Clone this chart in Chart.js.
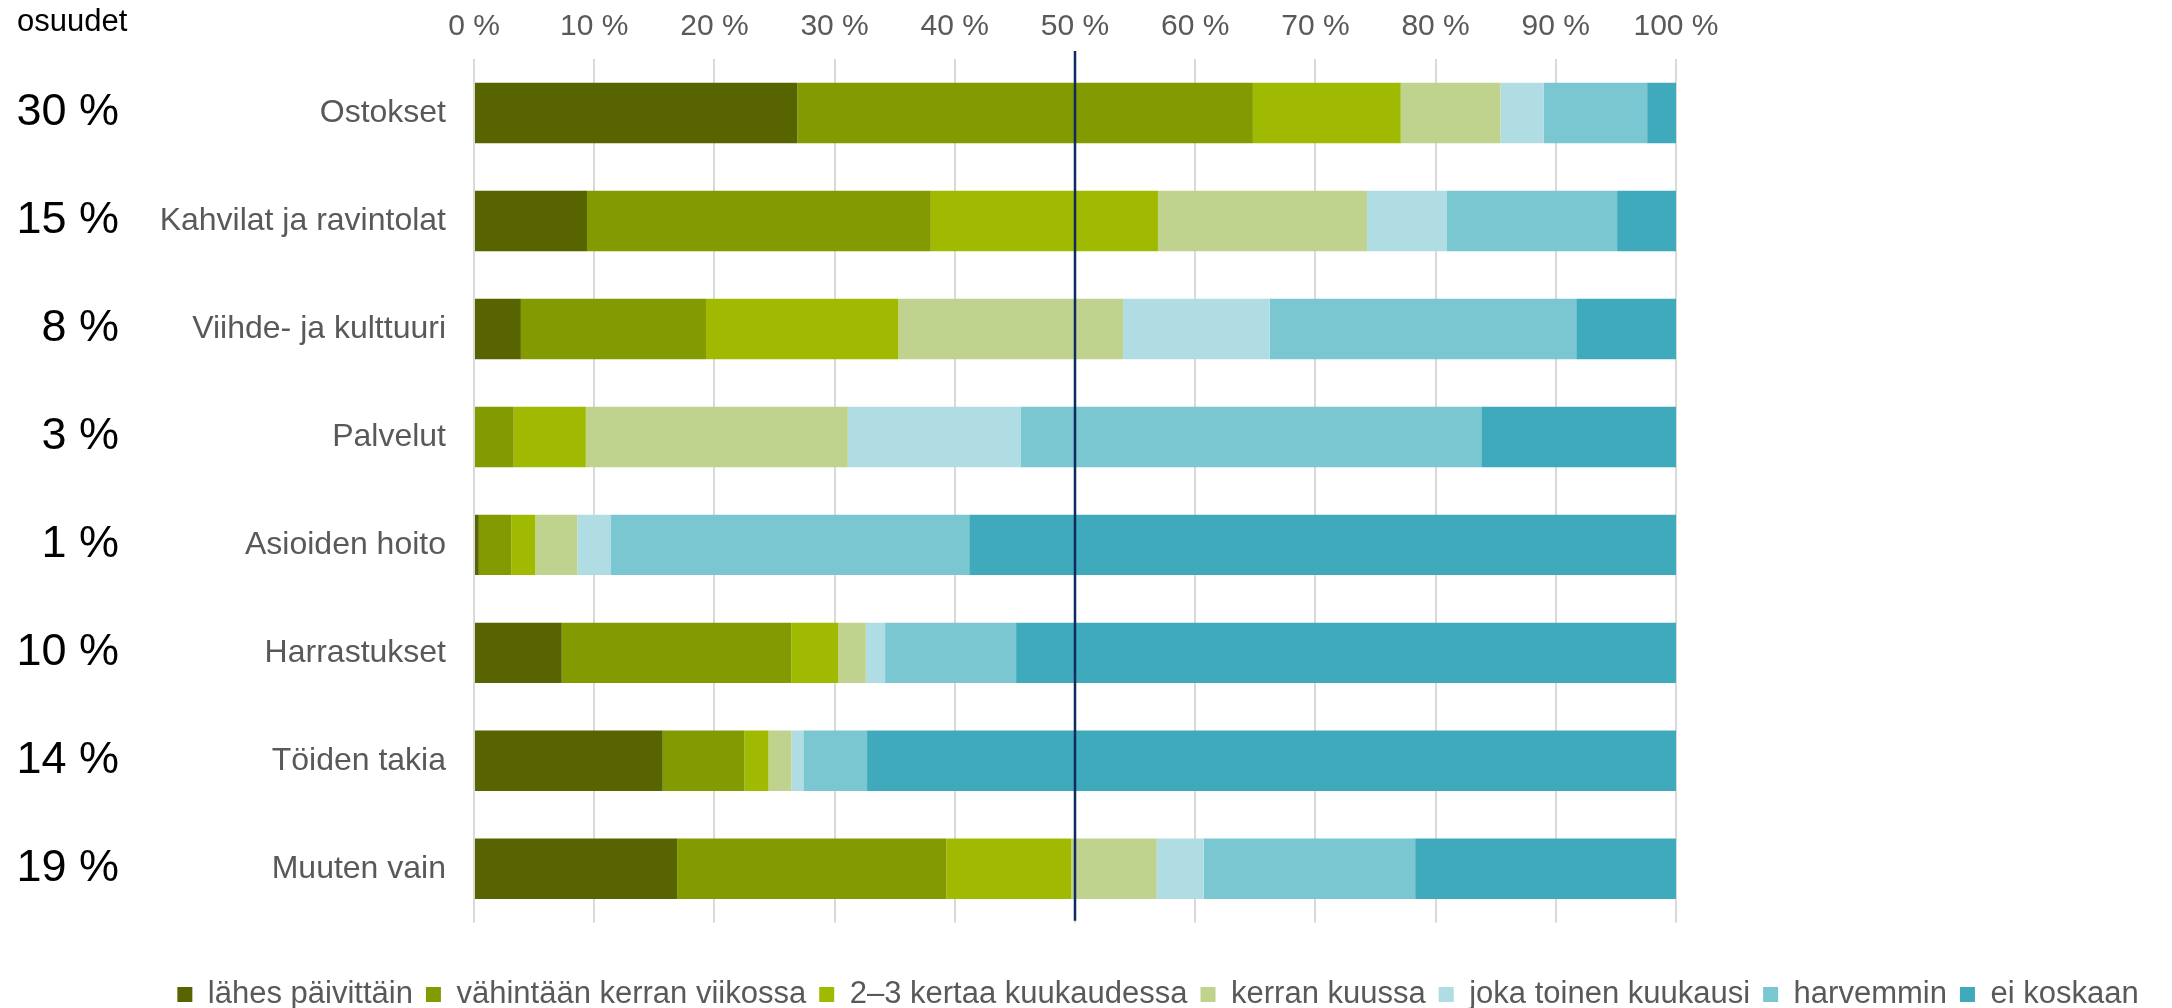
<!DOCTYPE html>
<html lang="fi">
<head>
<meta charset="utf-8">
<title>Asiointi</title>
<script src="https://cdn.jsdelivr.net/npm/chart.js@4.4.1/dist/chart.umd.min.js"></script>
<style>
  html, body { margin: 0; padding: 0; background: #ffffff; }
  #wrap { width: 2172px; height: 1008px; position: relative; }
</style>
</head>
<body>
<div id="wrap"><canvas id="bar-chart"></canvas></div>
<script>
const categories = ['Ostokset', 'Kahvilat ja ravintolat', 'Viihde- ja kulttuuri', 'Palvelut',
  'Asioiden hoito', 'Harrastukset', 'Töiden takia', 'Muuten vain'];
const shares = [30, 15, 8, 3, 1, 10, 14, 19];

const seriesNames = ['lähes päivittäin', 'vähintään kerran viikossa', '2–3 kertaa kuukaudessa',
  'kerran kuussa', 'joka toinen kuukausi', 'harvemmin', 'ei koskaan'];

const lahesPaivittain = [26.9, 9.4, 3.9, 0, 0.4, 7.3, 15.7, 16.9];
const vahintaanViikossa = [37.9, 28.6, 15.4, 3.3, 2.7, 19.1, 6.8, 22.4];
const kertaaKuukaudessa = [12.3, 18.9, 16.0, 6.0, 2.0, 3.9, 2.0, 10.4];
const kerranKuussa = [8.3, 17.4, 18.7, 21.8, 3.5, 2.3, 1.9, 7.1];
const jokaToinenKuukausi = [3.6, 6.6, 12.2, 14.4, 2.8, 1.6, 1.0, 3.9];
const harvemmin = [8.6, 14.2, 25.5, 38.3, 29.8, 10.9, 5.3, 17.6];
const eiKoskaan = [2.4, 4.9, 8.3, 16.2, 58.8, 54.9, 67.3, 21.7];

const referenceLine = 50;

const seriesValues = [lahesPaivittain, vahintaanViikossa, kertaaKuukaudessa,
  kerranKuussa, jokaToinenKuukausi, harvemmin, eiKoskaan];
const seriesColors = ['#576400', '#839a00', '#9fba00', '#c0d38e', '#afdde3', '#7ac6d1', '#3eaabc'];

const fontFamily = '"Liberation Sans", Arial, sans-serif';
const grey = '#595959';

// share column on the left + the 50 % line
const extrasPlugin = {
  id: 'extras',
  afterDatasetsDraw(chart) {
    const { ctx, chartArea, scales } = chart;
    const x = scales.x.getPixelForValue(referenceLine);
    ctx.save();
    ctx.strokeStyle = '#0d2b5e';
    ctx.lineWidth = 2.5;
    ctx.beginPath();
    ctx.moveTo(x, chartArea.top - 8);
    ctx.lineTo(x, chartArea.bottom - 2);
    ctx.stroke();
    ctx.restore();
  },
  afterDraw(chart) {
    const { ctx, scales } = chart;
    ctx.save();
    ctx.fillStyle = '#000000';
    ctx.font = '31px ' + fontFamily;
    ctx.textAlign = 'left';
    ctx.textBaseline = 'middle';
    ctx.fillText('osuudet', 17, 22);

    ctx.font = '45px ' + fontFamily;
    ctx.textAlign = 'right';
    shares.forEach((s, i) => {
      ctx.fillText(s + ' %', 119, scales.y.getPixelForValue(i));
    });
    ctx.restore();
  }
};

const datasets = seriesNames.map((name, i) => ({
  label: name,
  data: seriesValues[i],
  backgroundColor: seriesColors[i],
  borderWidth: 0,
  categoryPercentage: 1,
  barPercentage: 0.56
}));

new Chart(document.getElementById('bar-chart'), {
  type: 'bar',
  data: { labels: categories, datasets },
  plugins: [extrasPlugin],
  options: {
    indexAxis: 'y',
    responsive: true,
    maintainAspectRatio: false,
    animation: false,
    layout: { padding: { left: 144, right: 0, top: 0, bottom: -12 } },
    scales: {
      x: {
        position: 'top',
        stacked: true,
        min: 0,
        max: 100,
        afterFit: s => { s.height = 59; },
        ticks: {
          stepSize: 10,
          padding: 14,
          color: grey,
          font: { family: fontFamily, size: 30 },
          callback: v => v + ' %'
        },
        grid: { color: '#d9d9d9', lineWidth: 2, drawTicks: false },
        border: { display: false }
      },
      y: {
        stacked: true,
        afterFit: s => { s.width = 474 - 144; },
        ticks: {
          padding: 28,
          color: grey,
          font: { family: fontFamily, size: 32 }
        },
        grid: { display: false, drawTicks: false },
        border: { display: false }
      },
      // empty space on the right of the plot
      spacer: {
        type: 'category',
        axis: 'y',
        position: 'right',
        afterFit: s => { s.width = 2172 - 1676; },
        ticks: { display: false },
        grid: { display: false, drawTicks: false },
        border: { display: false }
      }
    },
    plugins: {
      tooltip: { enabled: false },
      legend: {
        position: 'bottom',
        title: { display: true, text: '', font: { size: 1 }, padding: { top: 0, bottom: 42 } },
        labels: {
          boxWidth: 15,
          boxHeight: 15,
          padding: 13,
          color: grey,
          font: { family: fontFamily, size: 31 }
        }
      }
    }
  }
});
</script>
</body>
</html>
